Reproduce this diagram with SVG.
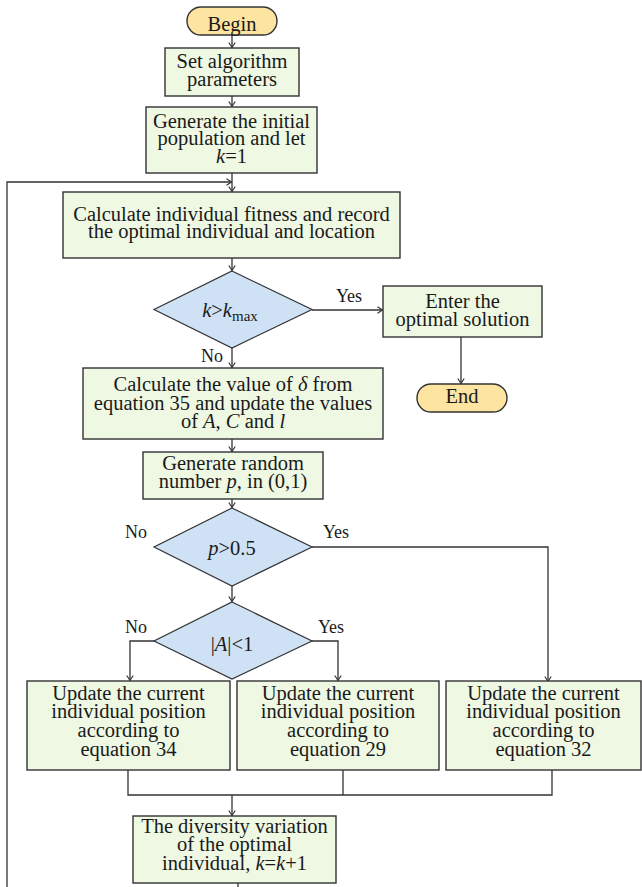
<svg xmlns="http://www.w3.org/2000/svg" width="642" height="887" viewBox="0 0 642 887">
<style>
  .box { fill: #eff8e3; stroke: #333333; stroke-width: 1.4; }
  .dia { fill: #cfe1f4; stroke: #333333; stroke-width: 1.2; }
  .pill { fill: #fde4a0; stroke: #333333; stroke-width: 1.4; }
  .t { font-family: "Liberation Serif", "Times New Roman", serif; font-size: 20.5px; fill: #1a1a1a; text-anchor: middle; }
  .lbl { font-family: "Liberation Serif", "Times New Roman", serif; font-size: 18px; fill: #1a1a1a; text-anchor: middle; }
  .i { font-style: italic; }
  .c { fill: none; stroke: #333333; stroke-width: 1.3; }
</style>
<defs>
  <marker id="ah" viewBox="-6 -4 7 8" refX="0" refY="0" markerWidth="7" markerHeight="8" markerUnits="userSpaceOnUse" orient="auto">
    <path d="M-5,-3.2 L0,0 L-5,3.2" fill="none" stroke="#333333" stroke-width="1.2"/>
  </marker>
</defs>

<g id="connectors">
  <line class="c" x1="232" y1="35" x2="232" y2="47.5" marker-end="url(#ah)"/>
  <line class="c" x1="232" y1="96" x2="232" y2="106.5" marker-end="url(#ah)"/>
  <line class="c" x1="232" y1="173" x2="232" y2="191.5" marker-end="url(#ah)"/>
  <polyline class="c" points="238,883 238,887"/>
  <polyline class="c" points="7,887 7,182 231.5,182" marker-end="url(#ah)"/>
  <line class="c" x1="232" y1="258" x2="232" y2="270.5" marker-end="url(#ah)"/>
  <line class="c" x1="312" y1="310" x2="382.5" y2="310" marker-end="url(#ah)"/>
  <line class="c" x1="461" y1="337" x2="461" y2="383.5" marker-end="url(#ah)"/>
  <line class="c" x1="232" y1="348" x2="232" y2="367.5" marker-end="url(#ah)"/>
  <line class="c" x1="232" y1="439" x2="232" y2="451.5" marker-end="url(#ah)"/>
  <line class="c" x1="232" y1="499" x2="232" y2="507.5" marker-end="url(#ah)"/>
  <polyline class="c" points="312,547 548,547 548,681.5" marker-end="url(#ah)"/>
  <line class="c" x1="232" y1="586" x2="232" y2="601.5" marker-end="url(#ah)"/>
  <polyline class="c" points="154,641 130,641 130,680.5" marker-end="url(#ah)"/>
  <polyline class="c" points="312,641 338,641 338,680.5" marker-end="url(#ah)"/>
  <polyline class="c" points="128,770 128,795 552,795 552,770"/>
  <line class="c" x1="343" y1="770" x2="343" y2="795"/>
  <line class="c" x1="232" y1="795" x2="232" y2="815.5" marker-end="url(#ah)"/>
</g>

<g id="begin">
  <rect class="pill" x="187" y="7" width="90" height="28" rx="14" ry="14"/>
  <text class="t" x="232" y="30.5">Begin</text>
</g>

<g id="set-params">
  <rect class="box" x="165" y="48" width="134" height="48"/>
  <text class="t" x="232" y="68">Set algorithm</text>
  <text class="t" x="232" y="86">parameters</text>
</g>

<g id="init-pop">
  <rect class="box" x="146" y="107" width="171" height="66"/>
  <text class="t" x="231.5" y="128">Generate the initial</text>
  <text class="t" x="231.5" y="145">population and let</text>
  <text class="t" x="231.5" y="163"><tspan class="i">k</tspan>=1</text>
</g>

<g id="fitness">
  <rect class="box" x="63" y="192" width="337" height="66"/>
  <text class="t" x="231.5" y="221">Calculate individual fitness and record</text>
  <text class="t" x="231.5" y="238">the optimal individual and location</text>
</g>

<g id="cond-kmax">
  <polygon class="dia" points="232,271 312,309.5 232,348 154,309.5"/>
  <text class="t" x="230" y="317"><tspan class="i">k</tspan>&gt;<tspan class="i">k</tspan><tspan font-size="15px" dy="4">max</tspan></text>
  <text class="lbl" x="349" y="302">Yes</text>
  <text class="lbl" x="212" y="362">No</text>
</g>

<g id="enter-opt">
  <rect class="box" x="383" y="286" width="159" height="51"/>
  <text class="t" x="462.5" y="308">Enter the</text>
  <text class="t" x="462.5" y="326">optimal solution</text>
</g>

<g id="end">
  <rect class="pill" x="417" y="384" width="90" height="28" rx="14" ry="14"/>
  <text class="t" x="462" y="403">End</text>
</g>

<g id="calc-delta">
  <rect class="box" x="83" y="368" width="300" height="71"/>
  <text class="t" x="233" y="391">Calculate the value of <tspan class="i">δ</tspan> from</text>
  <text class="t" x="233" y="409.5">equation 35 and update the values</text>
  <text class="t" x="233" y="428">of <tspan class="i">A</tspan>, <tspan class="i">C</tspan> and <tspan class="i">l</tspan></text>
</g>

<g id="rand-p">
  <rect class="box" x="143" y="452" width="180" height="47"/>
  <text class="t" x="233" y="470">Generate random</text>
  <text class="t" x="233" y="488">number <tspan class="i">p</tspan>, in (0,1)</text>
</g>

<g id="cond-p">
  <polygon class="dia" points="232,508 312,547 232,586 154,547"/>
  <text class="t" x="232" y="555"><tspan class="i">p</tspan>&gt;0.5</text>
  <text class="lbl" x="136" y="538">No</text>
  <text class="lbl" x="336" y="538">Yes</text>
</g>

<g id="cond-a">
  <polygon class="dia" points="232,602 312,641 232,679 154,641"/>
  <text class="t" x="232" y="651">|<tspan class="i">A</tspan>|&lt;1</text>
  <text class="lbl" x="136" y="633">No</text>
  <text class="lbl" x="331" y="633">Yes</text>
</g>

<g id="update-34">
  <rect class="box" x="27" y="681" width="203" height="89"/>
  <text class="t" x="128.5" y="700">Update the current</text>
  <text class="t" x="128.5" y="718">individual position</text>
  <text class="t" x="128.5" y="737">according to</text>
  <text class="t" x="128.5" y="756">equation 34</text>
</g>

<g id="update-29">
  <rect class="box" x="237" y="681" width="202" height="89"/>
  <text class="t" x="338" y="700">Update the current</text>
  <text class="t" x="338" y="718">individual position</text>
  <text class="t" x="338" y="737">according to</text>
  <text class="t" x="338" y="756">equation 29</text>
</g>

<g id="update-32">
  <rect class="box" x="446" y="681" width="195" height="89"/>
  <text class="t" x="543.5" y="700">Update the current</text>
  <text class="t" x="543.5" y="718">individual position</text>
  <text class="t" x="543.5" y="737">according to</text>
  <text class="t" x="543.5" y="756">equation 32</text>
</g>

<g id="diversity">
  <rect class="box" x="133" y="816" width="203" height="67"/>
  <text class="t" x="234.5" y="833">The diversity variation</text>
  <text class="t" x="234.5" y="851">of the optimal</text>
  <text class="t" x="234.5" y="870">individual, <tspan class="i">k</tspan>=<tspan class="i">k</tspan>+1</text>
</g>
</svg>
